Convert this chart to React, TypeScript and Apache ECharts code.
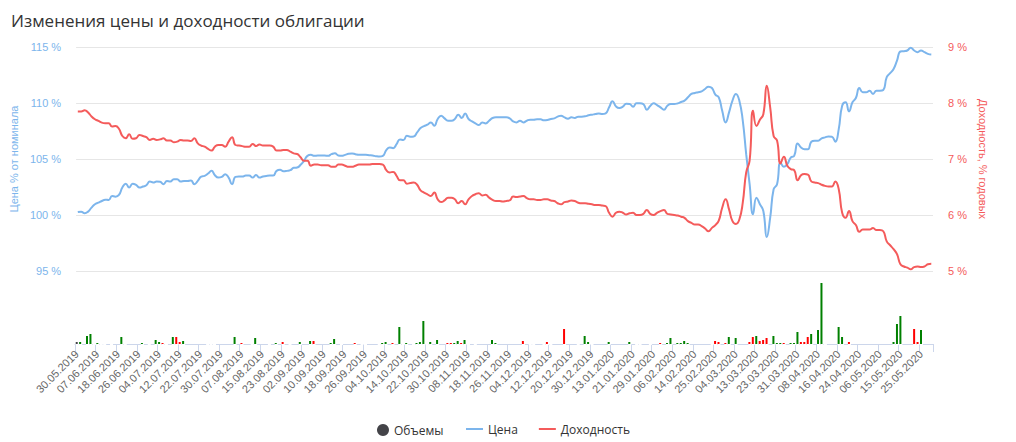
import React, { useEffect, useRef } from "react";
import * as echarts from "echarts";

// Trading calendar (month -> trading days)
const calendar: Array<[string, number[]]> = [
  ["05.2019", [30, 31]],
  ["06.2019", [3, 4, 5, 6, 7, 10, 11, 13, 14, 17, 18, 19, 20, 21, 24, 25, 26, 27, 28]],
  ["07.2019", [1, 2, 3, 4, 5, 8, 9, 10, 11, 12, 15, 16, 17, 18, 19, 22, 23, 24, 25, 26, 29, 30, 31]],
  ["08.2019", [1, 2, 5, 6, 7, 8, 9, 12, 13, 14, 15, 16, 19, 20, 21, 22, 23, 26, 27, 28, 29, 30]],
  ["09.2019", [2, 3, 4, 5, 6, 9, 10, 11, 12, 13, 16, 17, 18, 19, 20, 23, 24, 25, 26, 27, 30]],
  ["10.2019", [1, 2, 3, 4, 7, 8, 9, 10, 11, 14, 15, 16, 17, 18, 21, 22, 23, 24, 25, 28, 29, 30, 31]],
  ["11.2019", [1, 5, 6, 7, 8, 11, 12, 13, 14, 15, 18, 19, 20, 21, 22, 25, 26, 27, 28, 29]],
  ["12.2019", [2, 3, 4, 5, 6, 9, 10, 11, 12, 13, 16, 17, 18, 19, 20, 23, 24, 25, 26, 27, 30]],
  ["01.2020", [3, 6, 8, 9, 10, 13, 14, 15, 16, 17, 20, 21, 22, 23, 24, 27, 28, 29, 30, 31]],
  ["02.2020", [3, 4, 5, 6, 7, 10, 11, 12, 13, 14, 17, 18, 19, 20, 21, 25, 26, 27, 28]],
  ["03.2020", [2, 3, 4, 5, 6, 10, 11, 12, 13, 16, 17, 18, 19, 20, 23, 24, 25, 26, 27, 30, 31]],
  ["04.2020", [1, 2, 3, 6, 7, 8, 9, 10, 13, 14, 15, 16, 17, 20, 21, 22, 23, 24, 27, 28, 29, 30]],
  ["05.2020", [5, 6, 7, 8, 12, 13, 14, 15, 18, 19, 20, 21, 22, 25, 26, 27, 28]],
];

// Price, % of nominal
const price: number[] = [
  100.27, 100.3, 100.15, 100.3, 100.66, 100.96, 101.1, 101.25, 101.37, 101.34,
  101.7, 101.64, 101.79, 102.45, 102.8, 102.45, 102.8, 102.69, 102.45, 102.54,
  102.66, 102.99, 102.9, 102.99, 102.96, 102.75, 103.04, 102.99, 103.19, 103.19,
  102.99, 103.04, 103.04, 103.07, 102.75, 103.04, 103.43, 103.49, 103.7, 103.94,
  103.55, 103.34, 103.4, 103.64, 103.34, 102.75, 103.4, 103.43, 103.43, 103.52,
  103.52, 103.34, 103.58, 103.34, 103.43, 103.49, 103.52, 103.52, 103.94, 104.03,
  103.91, 103.94, 104.0, 104.21, 104.24, 104.48, 104.84, 105.28, 105.37, 105.28,
  105.31, 105.31, 105.31, 105.28, 105.43, 105.52, 105.31, 105.28, 105.37, 105.46,
  105.49, 105.43, 105.37, 105.37, 105.37, 105.34, 105.31, 105.25, 105.22, 105.28,
  105.79, 106.03, 105.97, 106.33, 106.75, 106.69, 107.07, 106.99, 107.01, 107.37,
  107.76, 107.94, 108.06, 108.27, 107.97, 108.57, 108.87, 108.63, 108.42, 108.42,
  108.57, 108.96, 108.66, 109.07, 108.57, 108.36, 108.18, 108.03, 108.27, 108.18,
  108.42, 108.66, 108.72, 108.72, 108.72, 108.72, 108.63, 108.36, 108.27, 108.42,
  108.27, 108.42, 108.51, 108.51, 108.54, 108.54, 108.45, 108.48, 108.57, 108.63,
  108.78, 108.87, 108.72, 108.6, 108.72, 108.66, 108.78, 108.78, 108.81, 108.9,
  108.96, 109.01, 109.07, 109.01, 109.07, 109.61, 110.15, 109.7, 109.55, 109.67,
  109.94, 109.91, 109.67, 109.97, 109.97, 109.91, 109.4, 109.73, 109.97, 109.82,
  109.61, 109.4, 109.76, 109.91, 109.91, 109.97, 110.09, 110.21, 110.51, 110.81,
  110.9, 110.96, 111.04, 111.25, 111.46, 111.34, 110.75, 110.51, 109.31, 108.27,
  109.16, 110.21, 110.81, 110.21, 108.42, 105.43, 102.75, 100.06, 101.55, 100.96,
  100.36, 98.03, 99.76, 102.3, 102.75, 104.69, 104.3, 104.54, 105.13, 105.28,
  106.39, 106.03, 105.88, 105.88, 106.54, 106.63, 106.63, 106.84, 106.93, 107.01,
  106.99, 106.54, 107.67, 109.76, 110.06, 109.25, 110.06, 110.45, 111.34, 110.96,
  110.96, 111.1, 110.81, 111.1, 111.1, 111.16, 112.3, 112.66, 113.04, 113.79,
  114.6, 114.63, 114.69, 114.93, 114.69, 114.54, 114.69, 114.54, 114.39, 114.33,
];

// Yield, % per annum
const yieldPct: number[] = [
  7.85, 7.85, 7.87, 7.83, 7.76, 7.71, 7.68, 7.65, 7.64, 7.64,
  7.58, 7.59, 7.54, 7.41, 7.37, 7.44, 7.36, 7.37, 7.43, 7.41,
  7.39, 7.34, 7.36, 7.34, 7.35, 7.37, 7.33, 7.33, 7.3, 7.31,
  7.34, 7.33, 7.33, 7.32, 7.37, 7.28, 7.24, 7.22, 7.18, 7.15,
  7.22, 7.25, 7.25, 7.22, 7.31, 7.39, 7.25, 7.24, 7.23, 7.22,
  7.22, 7.27, 7.23, 7.26, 7.24, 7.24, 7.24, 7.22, 7.15, 7.15,
  7.16, 7.16, 7.13, 7.1, 7.09, 7.03, 6.97, 6.97, 6.88, 6.9,
  6.9, 6.89, 6.89, 6.89, 6.86, 6.86, 6.9, 6.9, 6.88, 6.86,
  6.86, 6.88, 6.9, 6.9, 6.9, 6.9, 6.91, 6.91, 6.91, 6.9,
  6.8, 6.76, 6.77, 6.7, 6.62, 6.62, 6.56, 6.57, 6.58, 6.54,
  6.44, 6.4, 6.37, 6.34, 6.4, 6.28, 6.23, 6.26, 6.31, 6.31,
  6.28, 6.21, 6.25, 6.19, 6.28, 6.34, 6.37, 6.39, 6.35, 6.36,
  6.31, 6.27, 6.25, 6.25, 6.24, 6.25, 6.26, 6.33, 6.32, 6.33,
  6.34, 6.3, 6.28, 6.28, 6.27, 6.27, 6.28, 6.28, 6.26, 6.25,
  6.21, 6.19, 6.23, 6.24, 6.26, 6.25, 6.22, 6.21, 6.21, 6.2,
  6.19, 6.18, 6.18, 6.17, 6.16, 6.04, 5.97, 6.04, 6.06, 6.04,
  6.01, 6.03, 6.04, 6.0, 6.0, 6.02, 6.09, 6.02, 6.0, 6.04,
  6.07, 6.09, 6.02, 6.01, 6.0, 5.99, 5.97, 5.95, 5.89, 5.86,
  5.83, 5.83, 5.8, 5.76, 5.71, 5.77, 5.82, 5.9, 6.13, 6.28,
  6.1, 5.89, 5.84, 5.92, 6.22, 6.76, 6.97, 7.86, 7.59, 7.7,
  7.8, 8.31, 7.92, 7.41, 7.33, 6.92, 7.04, 6.88, 6.82, 6.8,
  6.62, 6.71, 6.73, 6.72, 6.6, 6.58, 6.57, 6.54, 6.52, 6.51,
  6.51, 6.6, 6.46, 6.04, 5.95, 6.07, 5.89, 5.82, 5.7, 5.74,
  5.74, 5.74, 5.77, 5.73, 5.73, 5.71, 5.53, 5.46, 5.39, 5.3,
  5.12, 5.08, 5.06, 5.03, 5.07, 5.08, 5.07, 5.08, 5.12, 5.13,
];

// Trading volumes (relative units), null = no trades
const volume: (number | null)[] = [
  2, 2, null, 8, 10, 0, 1, 0, 0, null,
  0, null, null, 7, 0, null, null, null, null, 1,
  null, 0, null, 4, 2, 1, 0, null, 7, 7,
  2, 3, null, null, null, null, null, null, 0, 0,
  0, null, null, null, null, null, 7, null, 1, null,
  null, 0, 6, null, null, null, 0, null, 1, null,
  2, null, 0, null, null, 2, null, null, 3, 3,
  null, null, null, null, 1, 5, null, 0, null, null,
  null, 1, null, 0, 0, null, null, null, 0, 1,
  2, null, 1, null, 17, 0, 1, null, 0, 1,
  2, 23, 0, 2, null, 4, null, null, 1, 1,
  1, 3, 1, 4, 0, null, 0, null, null, null,
  null, 4, 1, null, null, null, null, null, null, null,
  3, null, 0, 0, null, null, 0, 2, 0, null,
  null, null, 15, null, null, null, 0, null, 8, 2,
  0, null, null, null, null, 2, null, null, null, null,
  null, 2, null, 0, 0, null, null, 0, null, null,
  1, null, 1, 6, null, 1, 1, 3, 1, null,
  null, null, null, null, null, 0, 3, 2, null, 1,
  7, null, 6, null, null, null, 2, 7, 8, 3,
  4, 6, null, 8, 1, 1, 1, null, 1, 1,
  12, 2, 2, 7, 10, null, 14, 61, 0, null,
  null, null, 17, 7, null, 2, null, null, null, null,
  null, null, null, null, null, null, null, null, 2, 20,
  28, null, null, null, 15, 2, 14, null, null, null,
];

// Days whose volume bar is drawn red (price fell); first day has no comparison
const volumeDownDays: number[] = [
  25, 29, 30, 48, 60, 69, 81, 92, 108, 109, 112, 130, 137, 142, 170, 186, 187, 189,
  196, 197, 199, 200, 201, 206, 211, 212, 213, 225, 244, 245,
];
const volumeNeutralDays: number[] = [0];

const priceTicks = { min: 95, max: 115, interval: 5 };
const yieldTicks = { min: 5, max: 9, interval: 1 };

const pad = (d: number) => (d < 10 ? "0" + d : String(d));
const categories: string[] = calendar.flatMap(([m, ds]) => ds.map((d) => pad(d) + "." + m));

const BLUE = "#7cb5ec";
const RED = "#f45b5b";
const DARK = "#434348";

export default function App() {
  const ref = useRef<HTMLDivElement>(null);
  useEffect(() => {
    if (!ref.current) return;
    const chart = echarts.init(ref.current, undefined, { renderer: "svg" });
    const volData = volume.map((v, i) => {
      if (v === null) return null;
      const color = volumeNeutralDays.includes(i)
        ? DARK
        : volumeDownDays.includes(i)
        ? "#ff0000"
        : "#008000";
      return { value: v, itemStyle: { color } };
    });
    // white outline over the axis line under every traded day (as in the original)
    const maskData = volume.map((v) => (v === null ? null : 0));
    const font = "'Liberation Sans', Arial, sans-serif";
    chart.setOption({
      animation: false,
      backgroundColor: "#ffffff",
      title: {
        text: "Изменения цены и доходности облигации",
        left: 6,
        top: 7,
        textStyle: { fontSize: 17, fontWeight: "normal", color: "#333333", fontFamily: "'Open Sans', sans-serif" },
      },
      legend: [
        {
          data: [{ name: "Объемы", icon: "circle" }],
          left: 372,
          top: 419,
          itemWidth: 12,
          itemHeight: 12,
          textStyle: { fontSize: 12, color: "#333333", fontFamily: "'Open Sans', sans-serif" },
        },
        {
          data: [
            { name: "Цена", icon: "rect" },
            { name: "Доходность", icon: "rect" },
          ],
          left: 461,
          top: 418,
          itemWidth: 17,
          itemHeight: 2,
          itemGap: 21,
          textStyle: { fontSize: 12, color: "#333333", fontFamily: "'Open Sans', sans-serif" },
        },
      ],
      grid: [
        { left: 75, top: 47, width: 858, height: 224 },
        { left: 75, top: 280, width: 858, height: 64 },
      ],
      xAxis: [
        {
          type: "category",
          gridIndex: 0,
          data: categories,
          boundaryGap: true,
          show: false,
        },
        {
          type: "category",
          gridIndex: 1,
          data: categories,
          boundaryGap: true,
          axisLine: { lineStyle: { color: "#ccd6eb", width: 1 } },
          axisTick: { show: true, interval: 5, length: 8, lineStyle: { color: "#ccd6eb" } },
          axisLabel: {
            interval: 5,
            rotate: 45,
            margin: 8,
            fontSize: 11,
            color: "#666666",
            fontFamily: font,
          },
        },
      ],
      yAxis: [
        {
          type: "value",
          gridIndex: 0,
          position: "left",
          ...priceTicks,
          name: "Цена % от номинала",
          nameLocation: "middle",
          nameRotate: 90,
          nameGap: 57,
          nameTextStyle: { color: BLUE, fontSize: 11, fontFamily: font },
          axisLine: { show: false },
          axisTick: { show: false },
          axisLabel: { formatter: "{value} %", color: BLUE, fontSize: 11, margin: 15, fontFamily: font },
          splitLine: { lineStyle: { color: "#e6e6e6" } },
        },
        {
          type: "value",
          gridIndex: 0,
          position: "right",
          ...yieldTicks,
          name: "Доходность, % годовых",
          nameLocation: "middle",
          nameRotate: -90,
          nameGap: 44,
          nameTextStyle: { color: RED, fontSize: 11, fontFamily: font },
          axisLine: { show: false },
          axisTick: { show: false },
          axisLabel: { formatter: "{value} %", color: RED, fontSize: 11, margin: 15, fontFamily: font },
          splitLine: { show: false },
        },
        {
          type: "value",
          gridIndex: 1,
          min: 0,
          max: 64,
          show: false,
          splitLine: { show: false },
        },
      ],
      series: [
        {
          name: "mask",
          type: "bar",
          xAxisIndex: 1,
          yAxisIndex: 2,
          data: maskData,
          barWidth: 3,
          barGap: "-100%",
          silent: true,
          itemStyle: { color: "#ffffff", borderColor: "#ffffff", borderWidth: 2 },
        },
        {
          name: "Объемы",
          type: "bar",
          xAxisIndex: 1,
          yAxisIndex: 2,
          data: volData,
          barWidth: 2,
          barGap: "-100%",
          color: DARK,
          itemStyle: { color: DARK },
        },
        {
          name: "Цена",
          type: "line",
          xAxisIndex: 0,
          yAxisIndex: 0,
          data: price,
          smooth: true,
          showSymbol: false,
          symbol: "none",
          color: BLUE,
          lineStyle: { color: BLUE, width: 2 },
        },
        {
          name: "Доходность",
          type: "line",
          xAxisIndex: 0,
          yAxisIndex: 1,
          data: yieldPct,
          smooth: true,
          showSymbol: false,
          symbol: "none",
          color: RED,
          lineStyle: { color: RED, width: 2 },
        },
      ],
    });
    return () => chart.dispose();
  }, []);
  return (
    <div
      ref={ref}
      style={{ position: "fixed", left: 0, top: 0, width: 1016, height: 442, background: "#fff" }}
    />
  );
}
